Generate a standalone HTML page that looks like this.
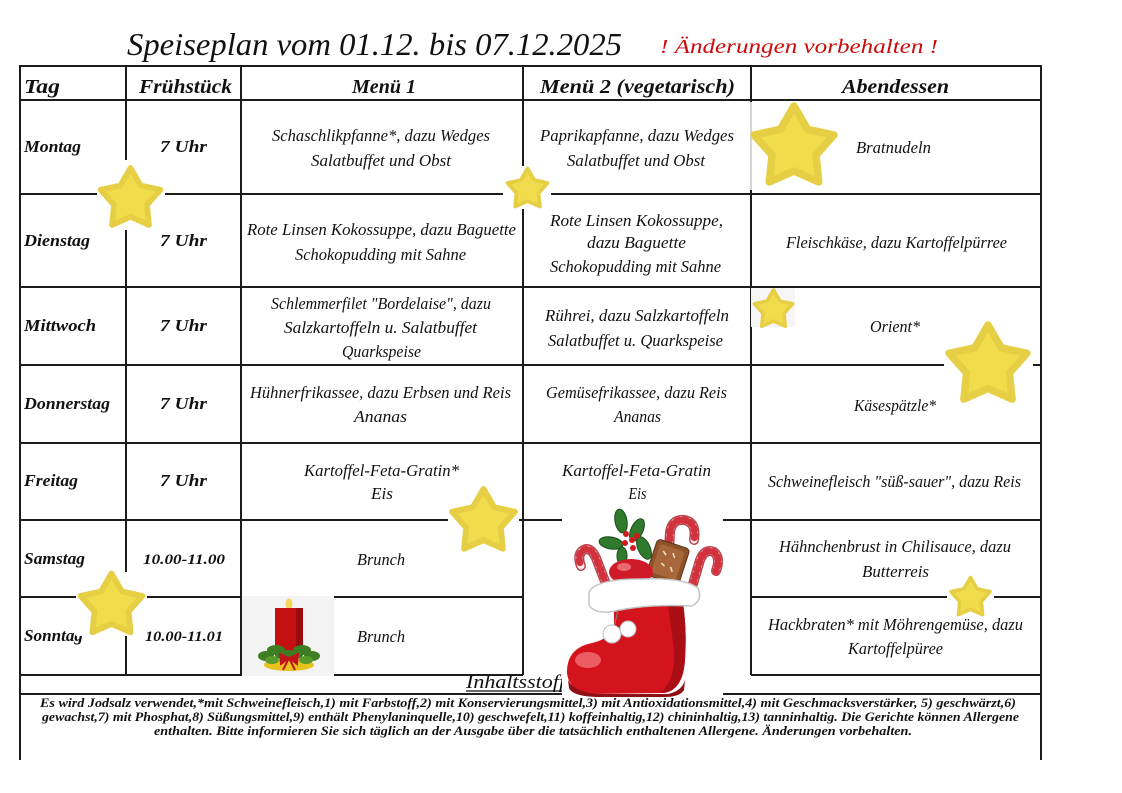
<!DOCTYPE html>
<html><head><meta charset="utf-8"><style>
html,body{margin:0;padding:0;background:#fff;}
svg{display:block;}
text{font-family:"Liberation Serif","DejaVu Serif",serif;font-style:italic;fill:#111;}
.b{font-weight:bold;}
.m{font-size:16.5px;}
.d{font-size:16.5px;font-weight:bold;}
.h{font-size:20px;font-weight:bold;}
.f{font-size:13px;font-weight:bold;}
</style></head><body>
<svg width="1122" height="793" viewBox="0 0 1122 793" xmlns="http://www.w3.org/2000/svg">
<defs>
<path id="st" d="M0,-100 L32.3,-44.5 L95.1,-30.9 L52.3,17 L58.8,80.9 L0,55 L-58.8,80.9 L-52.3,17 L-95.1,-30.9 L-32.3,-44.5 Z"/>
</defs>
<rect width="1122" height="793" fill="#fff"/>

<!-- Title -->
<text x="127" y="55" font-size="32" textLength="495" lengthAdjust="spacingAndGlyphs">Speiseplan vom 01.12. bis 07.12.2025</text>
<text x="660" y="53" font-size="20" textLength="278" lengthAdjust="spacingAndGlyphs" style="fill:#cc0a0a">! Änderungen vorbehalten !</text>

<!-- Grid lines -->
<g stroke="#1c1c1c" stroke-width="2" fill="none">
<line x1="19" y1="66" x2="1042" y2="66"/>
<line x1="19" y1="100" x2="1042" y2="100"/>
<line x1="19" y1="194" x2="1042" y2="194"/>
<line x1="19" y1="287" x2="1042" y2="287"/>
<line x1="19" y1="365" x2="1042" y2="365"/>
<line x1="19" y1="443" x2="1042" y2="443"/>
<line x1="19" y1="520" x2="1042" y2="520"/>
<line x1="19" y1="597" x2="523" y2="597"/>
<line x1="751" y1="597" x2="1042" y2="597"/>
<line x1="19" y1="675" x2="523" y2="675"/>
<line x1="751" y1="675" x2="1042" y2="675"/>
<line x1="19" y1="694" x2="1042" y2="694"/>
<line x1="20" y1="66" x2="20" y2="760"/>
<line x1="1041" y1="66" x2="1041" y2="760"/>
<line x1="126" y1="66" x2="126" y2="675"/>
<line x1="241" y1="66" x2="241" y2="675"/>
<line x1="523" y1="66" x2="523" y2="675"/>
<line x1="751" y1="66" x2="751" y2="675"/>
</g>

<!-- Header -->
<text class="h" x="24" y="93" textLength="36" lengthAdjust="spacingAndGlyphs">Tag</text>
<text class="h" x="139" y="93" textLength="93" lengthAdjust="spacingAndGlyphs">Frühstück</text>
<text class="h" x="352" y="93" textLength="64" lengthAdjust="spacingAndGlyphs">Menü 1</text>
<text class="h" x="540" y="93" textLength="195" lengthAdjust="spacingAndGlyphs">Menü 2 (vegetarisch)</text>
<text class="h" x="842" y="93" textLength="107" lengthAdjust="spacingAndGlyphs">Abendessen</text>

<!-- Day names -->
<text class="d" x="24" y="152" textLength="57" lengthAdjust="spacingAndGlyphs">Montag</text>
<text class="d" x="24" y="246" textLength="66" lengthAdjust="spacingAndGlyphs">Dienstag</text>
<text class="d" x="24" y="331" textLength="72" lengthAdjust="spacingAndGlyphs">Mittwoch</text>
<text class="d" x="24" y="409" textLength="86" lengthAdjust="spacingAndGlyphs">Donnerstag</text>
<text class="d" x="24" y="486" textLength="54" lengthAdjust="spacingAndGlyphs">Freitag</text>
<text class="d" x="24" y="564" textLength="61" lengthAdjust="spacingAndGlyphs">Samstag</text>
<text class="d" x="24" y="641" textLength="59" lengthAdjust="spacingAndGlyphs">Sonntag</text>

<!-- Breakfast -->
<g text-anchor="middle">
<text class="d" x="183.5" y="152" textLength="47" lengthAdjust="spacingAndGlyphs">7 Uhr</text>
<text class="d" x="183.5" y="246" textLength="47" lengthAdjust="spacingAndGlyphs">7 Uhr</text>
<text class="d" x="183.5" y="331" textLength="47" lengthAdjust="spacingAndGlyphs">7 Uhr</text>
<text class="d" x="183.5" y="409" textLength="47" lengthAdjust="spacingAndGlyphs">7 Uhr</text>
<text class="d" x="183.5" y="486" textLength="47" lengthAdjust="spacingAndGlyphs">7 Uhr</text>
<text class="d" x="184" y="564" textLength="82" lengthAdjust="spacingAndGlyphs" style="font-size:15px">10.00-11.00</text>
<text class="d" x="184" y="641" textLength="78" lengthAdjust="spacingAndGlyphs" style="font-size:15px">10.00-11.01</text>

<!-- Menü 1 -->
<text class="m" x="381" y="141" textLength="218" lengthAdjust="spacingAndGlyphs">Schaschlikpfanne*, dazu Wedges</text>
<text class="m" x="381" y="166" textLength="140" lengthAdjust="spacingAndGlyphs">Salatbuffet und Obst</text>
<text class="m" x="381.5" y="235" textLength="269" lengthAdjust="spacingAndGlyphs">Rote Linsen Kokossuppe, dazu Baguette</text>
<text class="m" x="380.5" y="260" textLength="171" lengthAdjust="spacingAndGlyphs">Schokopudding mit Sahne</text>
<text class="m" x="381" y="309" textLength="220" lengthAdjust="spacingAndGlyphs">Schlemmerfilet "Bordelaise", dazu</text>
<text class="m" x="380.5" y="333" textLength="193" lengthAdjust="spacingAndGlyphs">Salzkartoffeln u. Salatbuffet</text>
<text class="m" x="381.5" y="357" textLength="79" lengthAdjust="spacingAndGlyphs">Quarkspeise</text>
<text class="m" x="380.5" y="398" textLength="261" lengthAdjust="spacingAndGlyphs">Hühnerfrikassee, dazu Erbsen und Reis</text>
<text class="m" x="380.5" y="422" textLength="53" lengthAdjust="spacingAndGlyphs">Ananas</text>
<text class="m" x="381.5" y="476" textLength="155" lengthAdjust="spacingAndGlyphs">Kartoffel-Feta-Gratin*</text>
<text class="m" x="382" y="499" textLength="22" lengthAdjust="spacingAndGlyphs">Eis</text>
<text class="m" x="381" y="565" textLength="48" lengthAdjust="spacingAndGlyphs">Brunch</text>
<text class="m" x="381" y="642" textLength="48" lengthAdjust="spacingAndGlyphs">Brunch</text>

<!-- Menü 2 -->
<text class="m" x="637" y="141" textLength="194" lengthAdjust="spacingAndGlyphs">Paprikapfanne, dazu Wedges</text>
<text class="m" x="636" y="166" textLength="138" lengthAdjust="spacingAndGlyphs">Salatbuffet und Obst</text>
<text class="m" x="636.5" y="226" textLength="173" lengthAdjust="spacingAndGlyphs">Rote Linsen Kokossuppe,</text>
<text class="m" x="636.5" y="248" textLength="99" lengthAdjust="spacingAndGlyphs">dazu Baguette</text>
<text class="m" x="635.5" y="272" textLength="171" lengthAdjust="spacingAndGlyphs">Schokopudding mit Sahne</text>
<text class="m" x="637" y="321" textLength="184" lengthAdjust="spacingAndGlyphs">Rührei, dazu Salzkartoffeln</text>
<text class="m" x="635.5" y="346" textLength="175" lengthAdjust="spacingAndGlyphs">Salatbuffet u. Quarkspeise</text>
<text class="m" x="636.5" y="398" textLength="181" lengthAdjust="spacingAndGlyphs">Gemüsefrikassee, dazu Reis</text>
<text class="m" x="637.5" y="422" textLength="47" lengthAdjust="spacingAndGlyphs">Ananas</text>
<text class="m" x="636.5" y="476" textLength="149" lengthAdjust="spacingAndGlyphs">Kartoffel-Feta-Gratin</text>
<text class="m" x="637.5" y="499" textLength="18" lengthAdjust="spacingAndGlyphs">Eis</text>

<!-- Abendessen -->
<text class="m" x="893.5" y="153" textLength="75" lengthAdjust="spacingAndGlyphs">Bratnudeln</text>
<text class="m" x="896.5" y="248" textLength="221" lengthAdjust="spacingAndGlyphs">Fleischkäse, dazu Kartoffelpürree</text>
<text class="m" x="895" y="332" textLength="50" lengthAdjust="spacingAndGlyphs">Orient*</text>
<text class="m" x="895" y="411" textLength="82" lengthAdjust="spacingAndGlyphs">Käsespätzle*</text>
<text class="m" x="894.5" y="487" textLength="253" lengthAdjust="spacingAndGlyphs">Schweinefleisch "süß-sauer", dazu Reis</text>
<text class="m" x="895" y="552" textLength="232" lengthAdjust="spacingAndGlyphs">Hähnchenbrust in Chilisauce, dazu</text>
<text class="m" x="895.5" y="577" textLength="67" lengthAdjust="spacingAndGlyphs">Butterreis</text>
<text class="m" x="895.5" y="630" textLength="255" lengthAdjust="spacingAndGlyphs">Hackbraten* mit Möhrengemüse, dazu</text>
<text class="m" x="895.5" y="654" textLength="95" lengthAdjust="spacingAndGlyphs">Kartoffelpüree</text>

<!-- Footnotes -->
<text class="f" x="528" y="707" textLength="976" lengthAdjust="spacingAndGlyphs">Es wird Jodsalz verwendet,*mit Schweinefleisch,1) mit Farbstoff,2) mit Konservierungsmittel,3) mit Antioxidationsmittel,4) mit Geschmacksverstärker, 5) geschwärzt,6)</text>
<text class="f" x="530.5" y="721" textLength="977" lengthAdjust="spacingAndGlyphs">gewachst,7) mit Phosphat,8) Süßungsmittel,9) enthält Phenylaninquelle,10) geschwefelt,11) koffeinhaltig,12) chininhaltig,13) tanninhaltig. Die Gerichte können Allergene</text>
<text class="f" x="533" y="735" textLength="758" lengthAdjust="spacingAndGlyphs">enthalten. Bitte informieren Sie sich täglich an der Ausgabe über die tatsächlich enthaltenen Allergene. Änderungen vorbehalten.</text>
</g>

<!-- Inhaltsstoff -->
<text x="466" y="688" font-size="19" textLength="99" lengthAdjust="spacingAndGlyphs">Inhaltsstoff</text>
<line x1="466" y1="691" x2="563" y2="691" stroke="#111" stroke-width="1.2"/>

<!-- Star backgrounds -->
<g fill="#fff">
<rect x="97" y="160" width="68" height="70"/>
<rect x="503" y="166" width="48" height="43"/>
<rect x="749" y="102" width="91" height="88"/>
<rect x="944" y="322" width="89" height="81"/>
<rect x="448" y="488" width="71" height="63"/>
<rect x="76" y="572" width="71" height="64"/>
<rect x="947" y="576" width="47" height="40"/>
</g>
<line x1="751" y1="102" x2="751" y2="190" stroke="#aaa" stroke-width="1"/>
<rect x="751" y="288" width="44" height="39" fill="#f5f5f5"/>

<!-- Stars -->
<g fill="#f1dc4c" stroke="#e6cf45" stroke-width="18" stroke-linejoin="round">
<use href="#st" transform="translate(130.5,199.5) scale(0.315)"/>
<use href="#st" transform="translate(527.5,189.5) scale(0.21)"/>
<use href="#st" transform="translate(794,148) scale(0.42)"/>
<use href="#st" transform="translate(773.5,310) scale(0.2)"/>
<use href="#st" transform="translate(988,366) scale(0.41)"/>
<use href="#st" transform="translate(483.5,522) scale(0.33)"/>
<use href="#st" transform="translate(111.5,606) scale(0.325)"/>
<use href="#st" transform="translate(970.5,598) scale(0.205)"/>
</g>

<!-- Candle -->
<g>
<rect x="242" y="596" width="92" height="80" fill="#f3f3f3"/>
<line x1="289" y1="603" x2="289" y2="609" stroke="#333" stroke-width="1"/>
<ellipse cx="289" cy="604" rx="3.5" ry="5.5" fill="#f5d55a"/>
<rect x="275" y="608" width="28" height="46" fill="#c40f13"/>
<rect x="296" y="608" width="7" height="46" fill="#980b0e"/>
<ellipse cx="289" cy="665" rx="25" ry="6" fill="#e8c21f"/>
<g fill="#3e7d22">
<ellipse cx="266" cy="656" rx="8" ry="5"/>
<ellipse cx="276" cy="650" rx="9" ry="5"/>
<ellipse cx="302" cy="650" rx="9" ry="5"/>
<ellipse cx="312" cy="656" rx="8" ry="5"/>
<ellipse cx="289" cy="655" rx="14" ry="5"/>
<ellipse cx="272" cy="660" rx="7" ry="4" fill="#5a9a2c"/>
<ellipse cx="306" cy="660" rx="7" ry="4" fill="#5a9a2c"/>
</g>
<path d="M289,658 L280,654 L281,664 Z M289,658 L298,654 L297,664 Z M289,658 L283,670 M289,658 L295,670" fill="#c0161a" stroke="#c0161a" stroke-width="2"/>
</g>

<!-- Boot -->
<g>
<rect x="562" y="504" width="161" height="193" fill="#fff"/>
<g fill="none" stroke-linecap="round">
<path d="M606,584 L596,558 Q590,545 582,551 Q577,556 581,566" stroke="#b8444c" stroke-width="10"/>
<path d="M606,584 L596,558 Q590,545 582,551 Q577,556 581,566" stroke="#fbecec" stroke-width="7"/>
<path d="M606,584 L596,558 Q590,545 582,551 Q577,556 581,566" stroke="#d2323e" stroke-width="7" stroke-dasharray="3 4"/>
<path d="M668,568 L670,532 Q672,519 684,520 Q697,522 694,540" stroke="#b8444c" stroke-width="10"/>
<path d="M668,568 L670,532 Q672,519 684,520 Q697,522 694,540" stroke="#fbecec" stroke-width="7"/>
<path d="M668,568 L670,532 Q672,519 684,520 Q697,522 694,540" stroke="#d2323e" stroke-width="7" stroke-dasharray="3 4"/>
<path d="M693,584 L700,560 Q705,548 714,552 Q721,558 716,571" stroke="#b8444c" stroke-width="10"/>
<path d="M693,584 L700,560 Q705,548 714,552 Q721,558 716,571" stroke="#fbecec" stroke-width="7"/>
<path d="M693,584 L700,560 Q705,548 714,552 Q721,558 716,571" stroke="#d2323e" stroke-width="7" stroke-dasharray="3 4"/>
</g>
<g fill="#2f7a2c" stroke="#1d4d1b" stroke-width="1">
<ellipse cx="621" cy="521" rx="6" ry="12" transform="rotate(-10 621 521)"/>
<ellipse cx="637" cy="530" rx="6" ry="12" transform="rotate(25 637 530)"/>
<ellipse cx="611" cy="543" rx="12" ry="6" transform="rotate(10 611 543)"/>
<ellipse cx="644" cy="548" rx="6" ry="12" transform="rotate(-25 644 548)"/>
<ellipse cx="622" cy="556" rx="5" ry="9"/>
</g>
<g fill="#d01a22">
<circle cx="626" cy="534" r="3"/><circle cx="632" cy="540" r="3"/><circle cx="625" cy="543" r="3"/><circle cx="633" cy="548" r="3"/><circle cx="637" cy="536" r="3"/>
</g>
<g transform="rotate(18 668 562)">
<rect x="651" y="543" width="34" height="38" rx="4" fill="#8c5228" stroke="#5a3418"/>
<rect x="655" y="547" width="26" height="30" rx="3" fill="#a8673a"/>
<path d="M660,553 l4,3 M670,552 l3,4 M662,565 l4,2 M672,566 l3,4" stroke="#f3e6d0" stroke-width="1.5"/>
</g>
<ellipse cx="631" cy="572" rx="22" ry="13" fill="#cf1a2a"/>
<ellipse cx="624" cy="567" rx="7" ry="4" fill="#ea6a72"/>
<path d="M614,607 L683,603 Q687,630 685,660 Q683,690 664,693 L595,694 Q568,692 567,672 Q567,648 592,643 Q606,640 614,630 Z" fill="#d4141c"/>
<path d="M668,605 L683,603 Q687,630 685,660 Q683,690 664,693 L660,693 Q676,680 674,650 Z" fill="#a80e14"/>
<path d="M568,680 Q575,693 600,694 L668,694 Q682,691 685,680 L684,690 Q680,697 664,697 L596,697 Q572,696 569,688 Z" fill="#8e0f14"/>
<ellipse cx="588" cy="660" rx="13" ry="8" fill="#f06a70" opacity="0.85"/>
<path d="M589,592 Q596,579 640,579 Q684,577 698,588 Q703,600 692,606 Q650,604 620,610 Q596,616 589,605 Z" fill="#fff" stroke="#c4c4c4" stroke-width="1.5"/>
<line x1="618" y1="610" x2="614" y2="628" stroke="#888" stroke-width="1"/>
<circle cx="612" cy="634" r="9" fill="#fff" stroke="#bbb"/>
<circle cx="628" cy="629" r="8" fill="#fff" stroke="#bbb"/>
</g>
</svg>
</body></html>
